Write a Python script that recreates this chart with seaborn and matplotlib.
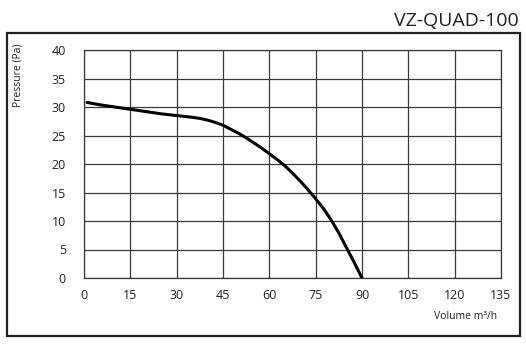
import matplotlib
matplotlib.use("Agg")
import matplotlib.pyplot as plt
from matplotlib.patches import Rectangle
import seaborn as sns
import pandas as pd

# --- data ---
volume = [1, 5, 10, 15, 20, 25, 30, 35, 37.5, 40, 42.5, 45, 47.5, 50, 52.5, 55,
          57.5, 60, 62.5, 65, 67.5, 70, 72.5, 75, 77.5, 80, 82.5, 85, 87.5, 90]
pressure = [30.8, 30.4, 30.0, 29.6, 29.2, 28.8, 28.5, 28.2, 28.0, 27.7, 27.3, 26.8,
            26.1, 25.4, 24.6, 23.7, 22.8, 21.8, 20.8, 19.7, 18.4, 17.0, 15.5, 13.9,
            12.2, 10.2, 7.9, 5.3, 2.7, 0.0]
x_ticks = [0, 15, 30, 45, 60, 75, 90, 105, 120, 135]
y_ticks = [0, 5, 10, 15, 20, 25, 30, 35, 40]
title = "VZ-QUAD-100"
x_label = "Volume m³/h"
y_label = "Pressure (Pa)"

df = pd.DataFrame({"volume": volume, "pressure": pressure})

sns.set_style("white")
plt.rcParams['font.family'] = ['Open Sans', 'DejaVu Sans']

fig = plt.figure(figsize=(5.26, 3.45), dpi=100)
ax = fig.add_axes([84 / 526, 1 - 278 / 345, 417 / 526, 228 / 345])

sns.lineplot(data=df, x="volume", y="pressure", ax=ax, color="black", linewidth=2.2)

ax.set_xlim(0, 135)
ax.set_ylim(0, 40)
ax.set_xticks(x_ticks)
ax.set_yticks(y_ticks)
ax.grid(True, color="#3a3a3a", linewidth=0.9)
ax.set_axisbelow(True)
for s in ax.spines.values():
    s.set_color("#3a3a3a")
    s.set_linewidth(0.9)
ax.tick_params(axis="both", length=0, labelsize=9, colors="#222222")
ax.tick_params(axis="y", pad=13)
ax.tick_params(axis="x", pad=8)

ax.set_xlabel(x_label, fontsize=7.5, color="#222222", ha="right", va="center")
ax.xaxis.set_label_coords(0.99, -0.17)
ax.set_ylabel(y_label, fontsize=7.5, color="#222222", ha="center", va="center")
ax.yaxis.set_label_coords(-0.158, 0.89)

# outer frame
fig.patches.append(Rectangle((7 / 526, 1 - 336 / 345), 513 / 526, 303 / 345,
                             transform=fig.transFigure, fill=False,
                             edgecolor="#222222", linewidth=1.6))

fig.text(519 / 526, 1 - 21 / 345, title, ha="right", va="center",
         fontsize=14, color="#222222")

fig.savefig("out.png", dpi=100)
